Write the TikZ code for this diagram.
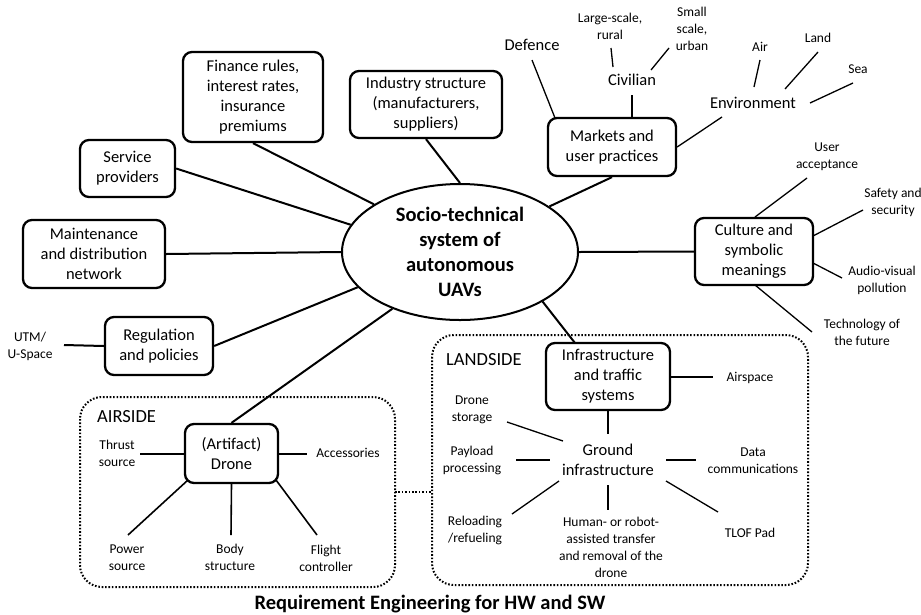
\documentclass[tikz,border=0pt]{standalone}
\usepackage{fontspec}
\setmainfont{Carlito}
\usetikzlibrary{shapes.geometric,calc}
\begin{document}
\begin{tikzpicture}[x=1pt,y=-1pt,
  box/.style={draw,line width=2.3pt,rounded corners=9pt,align=center,inner sep=0pt,font=\fontsize{16.5}{20}\selectfont},
  lab/.style={align=center,inner sep=0pt,font=\fontsize{13.5}{17}\selectfont},
  mid/.style={align=center,inner sep=0pt,font=\fontsize{16.5}{19.5}\selectfont},
  side/.style={anchor=west,inner sep=0pt,font=\fontsize{18.5}{20}\selectfont},
  mainline/.style={line width=2pt},
  leaf/.style={line width=1.3pt},
  dotbox/.style={line width=2pt,dash pattern=on 1.6pt off 1.8pt,rounded corners=22pt}]
\useasboundingbox (0,0) rectangle (921,614);
\fill[white] (0,0) rectangle (921,614);

% dotted groups
\draw[dotbox] (80,397) rectangle (395,587);
\draw[dotbox] (432,335) rectangle (808,585);
\coordinate (dA) at (395,492);
\coordinate (dB) at (432,492);
\draw[line width=2pt,dash pattern=on 1.6pt off 1.8pt] (dA) -- (dB);

% central ellipse
\node[ellipse,draw,line width=2pt,minimum width=236,minimum height=136,inner sep=0pt,align=center,
      font=\bfseries\fontsize{20.5}{25}\selectfont] (ell) at (460,252) {Socio-technical\\system of\\autonomous\\UAVs};

% boxes
\node[box,minimum width=140,minimum height=90] (fin) at (253,97) {Finance rules,\\interest rates,\\insurance\\premiums};
\node[box,minimum width=152,minimum height=67] (ind) at (426,104.5) {Industry structure\\(manufacturers,\\suppliers)};
\node[box,minimum width=95,minimum height=57] (serv) at (127.5,168.5) {Service\\providers};
\node[box,minimum width=142,minimum height=68] (maint) at (94,254) {Maintenance\\and distribution\\network};
\node[box,minimum width=108,minimum height=58] (reg) at (159,346) {Regulation\\and policies};
\node[box,minimum width=93,minimum height=59] (drone) at (231.5,453.5) {(Artifact)\\Drone};
\node[box,minimum width=124,minimum height=67] (infra) at (608,376.5) {Infrastructure\\and traffic\\systems};
\node[box,minimum width=128,minimum height=58] (mk) at (612,147) {Markets and\\user practices};
\node[box,minimum width=118,minimum height=67] (cu) at (754,251.5) {Culture and\\symbolic\\meanings};

% connectors to the ellipse
\draw[mainline] (fin.south) -- (ell.151);
\draw[mainline] (ind.south) -- (ell.north);
\draw[mainline] (serv.east) -- (ell.166);
\draw[mainline] (maint.east) -- (ell.west);
\draw[mainline] (reg.east) -- (ell.199);
\draw[mainline] (drone.north) -- (ell.220);
\draw[mainline] (mk.south) -- (ell.27);
\draw[mainline] (cu.west) -- (ell.east);
\coordinate (infraTop) at (575,343);
\draw[mainline] (infraTop) -- (ell.-31);

% regulation
\node[lab] (utm) at (30,346) {UTM/\\U-Space};
\coordinate (utmE) at (64,345);
\draw[mainline] (reg.west) -- (utmE);

% airside
\node[side] (airside) at (97,417) {AIRSIDE};
\node[lab] (thr) at (117,453.5) {Thrust\\source};
\node[lab] (acc) at (348,453) {Accessories};
\node[lab] (pow) at (127,558) {Power\\source};
\node[lab] (body) at (230,557.5) {Body\\structure};
\node[lab] (flc) at (326,558) {Flight\\controller};
\coordinate (thrE) at (140,453.5);
\coordinate (accW) at (307,453.5);
\coordinate (dSW) at (188,480);
\coordinate (powN) at (128,535);
\coordinate (bodyN) at (231,535);
\coordinate (dSE) at (276,480);
\coordinate (flcN) at (317,535);
\draw[mainline] (drone.west) -- (thrE);
\draw[mainline] (drone.east) -- (accW);
\draw[leaf,line width=1.6pt] (dSW) -- (powN);
\draw[leaf,line width=1.6pt] (drone.south) -- (bodyN);
\draw[leaf,line width=1.6pt] (dSE) -- (flcN);

% landside
\node[side] (landside) at (446,360) {LANDSIDE};
\node[lab] (airsp) at (750,378) {Airspace};
\node[mid] (ground) at (608,460) {Ground\\infrastructure};
\node[lab] (stor) at (472,409.5) {Drone\\storage};
\node[lab] (pay) at (472,460.5) {Payload\\processing};
\node[lab] (data) at (753,460.5) {Data\\communications};
\node[lab] (reload) at (475,530.5) {Reloading\\/refueling};
\node[lab] (human) at (611,547.5) {Human- or robot-\\assisted transfer\\and removal of the\\drone};
\node[lab] (tlof) at (750,533) {TLOF Pad};
\coordinate (airspW) at (713,376.5);
\coordinate (groundN) at (608,434);
\draw[mainline] (infra.east) -- (airspW);
\draw[mainline] (infra.south) -- (groundN);
\coordinate (s1) at (507,422); \coordinate (s2) at (563,441);
\coordinate (p1) at (516,460); \coordinate (p2) at (550,460);
\coordinate (c1) at (666,460); \coordinate (c2) at (696,460);
\coordinate (r1) at (559,481); \coordinate (r2) at (512,514);
\coordinate (h1) at (608,485); \coordinate (h2) at (608,510);
\coordinate (t1) at (666,481); \coordinate (t2) at (718,512);
\draw[leaf] (s1) -- (s2);
\draw[leaf] (p1) -- (p2);
\draw[leaf] (c1) -- (c2);
\draw[leaf] (r1) -- (r2);
\draw[leaf] (h1) -- (h2);
\draw[leaf] (t1) -- (t2);

% markets
\node[mid] (def) at (532,45) {Defence};
\node[mid] (civ) at (632,80) {Civilian};
\node[mid] (env) at (753,103) {Environment};
\node[lab] (large) at (610,26.5) {Large-scale,\\rural};
\node[lab] (small) at (692,28.7) {Small\\scale,\\urban};
\node[lab] (airn) at (760,47) {Air};
\node[lab] (landn) at (818,38) {Land};
\node[lab] (sea) at (858,69) {Sea};
\coordinate (m1) at (532,60); \coordinate (m2) at (555,118);
\coordinate (m3) at (632,95); \coordinate (m4) at (632,118);
\coordinate (m5) at (611,48); \coordinate (m6) at (613,67);
\coordinate (m7) at (669,48); \coordinate (m8) at (651,70);
\coordinate (m9) at (722,117);
\coordinate (e1) at (760,60); \coordinate (e2) at (754,87);
\coordinate (e3) at (818,52); \coordinate (e4) at (785,89);
\coordinate (e5) at (853,83); \coordinate (e6) at (810,103);
\draw[leaf] (m1) -- (m2);
\draw[leaf] (m3) -- (m4);
\draw[leaf] (m5) -- (m6);
\draw[leaf] (m7) -- (m8);
\draw[leaf] (m9) -- (mk.east);
\draw[leaf] (e1) -- (e2);
\draw[leaf] (e3) -- (e4);
\draw[leaf] (e5) -- (e6);

% culture
\node[lab] (user) at (827,157) {User\\acceptance};
\node[lab] (safe) at (893,202) {Safety and\\security};
\node[lab] (audio) at (882,280) {Audio-visual\\pollution};
\node[lab] (tech) at (862,332) {Technology of\\the future};
\coordinate (u1) at (755,217); \coordinate (u2) at (807,178);
\coordinate (u3) at (813,236); \coordinate (u4) at (863,210);
\coordinate (u5) at (813,263); \coordinate (u6) at (842,278);
\coordinate (u7) at (755,285); \coordinate (u8) at (812,332);
\draw[leaf] (u1) -- (u2);
\draw[leaf] (u3) -- (u4);
\draw[leaf] (u5) -- (u6);
\draw[leaf] (u7) -- (u8);

% title
\node[inner sep=0pt,font=\bfseries\fontsize{20.5}{24}\selectfont] (title) at (430,604) {Requirement Engineering for HW and SW};
\end{tikzpicture}
\end{document}
